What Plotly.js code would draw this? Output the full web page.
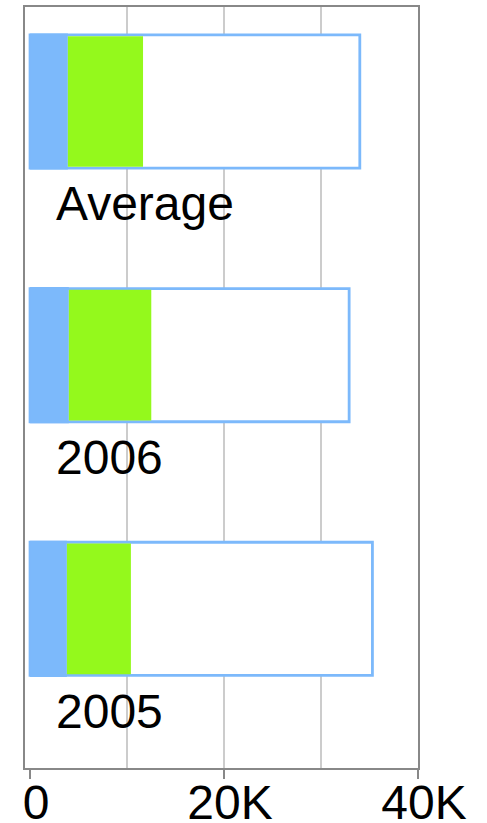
<!DOCTYPE html>
<html>
<head>
<meta charset="utf-8">
<script src="https://cdn.plot.ly/plotly-3.0.1.min.js"></script>
<style>html,body{margin:0;padding:0;background:#fff;}#chart{width:487px;height:823px;}</style>
</head>
<body>
<div id="chart"></div>
<script>
var categories = ['2005', '2006', 'Average'];
var blueValues = [3800, 4000, 3900];
var greenValues = [10400, 12500, 11650];
var totalValues = [35300, 32900, 34000];
var tickVals = [0, 20000, 40000];
var tickText = ['0', '20K', '40K'];

var blueC = '#7cb9fb';
var greenC = '#94f91c';

var greenSeg = greenValues.map(function (g, i) { return g - blueValues[i]; });

var traces = [
  {
    type: 'bar', orientation: 'h', y: categories, x: totalValues, base: 0,
    width: 0.525, offset: -0.135,
    marker: {color: '#ffffff', line: {color: blueC, width: 2.8}},
    hoverinfo: 'x'
  },
  {
    type: 'bar', orientation: 'h', y: categories, x: blueValues, base: 0,
    width: 0.537, offset: -0.141,
    marker: {color: blueC, line: {width: 0}},
    hoverinfo: 'x'
  },
  {
    type: 'bar', orientation: 'h', y: categories, x: greenSeg, base: blueValues,
    width: 0.515, offset: -0.13,
    marker: {color: greenC, line: {color: '#ffffff', width: 0}},
    hoverinfo: 'x'
  }
];

var annotations = categories.map(function (c, i) {
  return {
    x: 2450, y: i, xref: 'x', yref: 'y', text: c, showarrow: false,
    xanchor: 'left', yanchor: 'middle', yshift: -70,
    font: {family: 'Liberation Sans, Arial, sans-serif', size: 48, color: '#000'}
  };
});

var layout = {
  width: 487, height: 823,
  margin: {l: 25, r: 69, t: 7, b: 55, pad: 0},
  paper_bgcolor: '#fff', plot_bgcolor: '#fff',
  showlegend: false,
  barmode: 'overlay',
  font: {family: 'Liberation Sans, Arial, sans-serif', size: 48, color: '#000'},
  xaxis: {
    range: [-520, 40000],
    tickmode: 'array', tickvals: tickVals, ticktext: tickText,
    ticks: 'outside', ticklen: 9, tickwidth: 2, tickcolor: '#888',
    ticklabelshift: 6, ticklabelstandoff: -18,
    showgrid: true, gridcolor: '#cccccc', gridwidth: 1.5,
    zeroline: true, zerolinecolor: '#ffffff', zerolinewidth: 2,
    minor: {dtick: 10000, tick0: 0, showgrid: true, gridcolor: '#cccccc', gridwidth: 1.5, ticks: ''},
    showline: true, linecolor: '#888', linewidth: 2, mirror: true,
    tickfont: {size: 48, color: '#000'},
    fixedrange: true
  },
  yaxis: {
    type: 'category', categoryorder: 'array', categoryarray: categories,
    range: [-0.5, 2.5],
    showticklabels: false, ticks: '', showgrid: false, zeroline: false,
    showline: true, linecolor: '#888', linewidth: 2, mirror: true,
    fixedrange: true
  },
  annotations: annotations
};

Plotly.newPlot('chart', traces, layout, {displayModeBar: false, staticPlot: true});
</script>
</body>
</html>
